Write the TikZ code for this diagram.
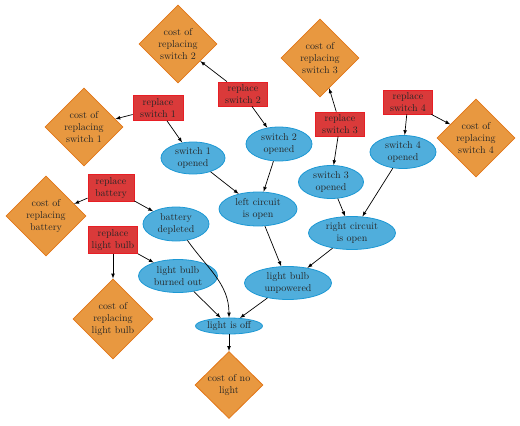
\documentclass[tikz,border=0pt]{standalone}
\usetikzlibrary{shapes.geometric,arrows}
\definecolor{dfill}{RGB}{232,152,64}
\definecolor{ddraw}{RGB}{226,118,24}
\definecolor{rfill}{RGB}{218,58,58}
\definecolor{rdraw}{RGB}{232,30,36}
\definecolor{efill}{RGB}{80,174,220}
\definecolor{edraw}{RGB}{28,152,212}
\tikzset{
  costnode/.style={diamond,draw=ddraw,fill=dfill,line width=0.8pt,align=center,inner sep=0pt,text=black!85},
  actnode/.style={rectangle,draw=rdraw,fill=rfill,line width=0.8pt,align=center,inner sep=0pt,text=black!85},
  statenode/.style={ellipse,draw=edraw,fill=efill,line width=0.8pt,align=center,inner sep=0pt,text=black!85},
  link/.style={-latex,line width=0.7pt,black}
}
\begin{document}
\begin{tikzpicture}[x=1pt,y=-1pt]
\useasboundingbox (0,0) rectangle (520,426);
% cost diamonds
\node[costnode,minimum width=78pt,minimum height=78pt] (cs2) at (178,44) {cost of\\replacing\\switch 2};
\node[costnode,minimum width=78pt,minimum height=78pt] (cs1) at (84,127) {cost of\\replacing\\switch 1};
\node[costnode,minimum width=78pt,minimum height=78pt] (cs3) at (320,58) {cost of\\replacing\\switch 3};
\node[costnode,minimum width=78pt,minimum height=78pt] (cs4) at (476,138) {cost of\\replacing\\switch 4};
\node[costnode,minimum width=80pt,minimum height=80pt] (cb) at (46,216) {cost of\\replacing\\battery};
\node[costnode,minimum width=80pt,minimum height=80pt] (clb) at (113,319) {cost of\\replacing\\light bulb};
\node[costnode,minimum width=68pt,minimum height=67pt] (cnl) at (229,385) {cost of no\\light};
% action rectangles
\node[actnode,minimum width=50pt,minimum height=25pt] (rs1) at (158,108) {replace\\switch 1};
\node[actnode,minimum width=49pt,minimum height=24pt] (rs2) at (243,94) {replace\\switch 2};
\node[actnode,minimum width=49pt,minimum height=24pt] (rs3) at (340,124) {replace\\switch 3};
\node[actnode,minimum width=49pt,minimum height=24pt] (rs4) at (408,102) {replace\\switch 4};
\node[actnode,minimum width=46pt,minimum height=27pt] (rb) at (111,188) {replace\\battery};
\node[actnode,minimum width=49pt,minimum height=27pt] (rlb) at (113,240) {replace\\light bulb};
% state ellipses
\node[statenode,minimum width=64pt,minimum height=32pt] (s1) at (193,158) {switch 1\\opened};
\node[statenode,minimum width=66pt,minimum height=34pt] (s2) at (279,144) {switch 2\\opened};
\node[statenode,minimum width=65pt,minimum height=33pt] (s3) at (331,182) {switch 3\\opened};
\node[statenode,minimum width=66pt,minimum height=33pt] (s4) at (403,152) {switch 4\\opened};
\node[statenode,minimum width=78pt,minimum height=34pt] (lc) at (258,209) {left circuit\\is open};
\node[statenode,minimum width=87pt,minimum height=33pt] (rc) at (352,233) {right circuit\\is open};
\node[statenode,minimum width=87pt,minimum height=33pt] (lbu) at (288,283) {light bulb\\unpowered};
\node[statenode,minimum width=67pt,minimum height=16pt] (lio) at (229,326) {light is off};
\node[statenode,minimum width=66pt,minimum height=34pt] (bd) at (176,224) {battery\\depleted};
\node[statenode,minimum width=79pt,minimum height=33pt] (lbb) at (178,276) {light bulb\\burned out};
% edges
\draw[link] (rs1) -- (cs1);
\draw[link] (rs1) -- (s1);
\draw[link] (rs2) -- (cs2);
\draw[link] (rs2) -- (s2);
\draw[link] (rs3) -- (cs3);
\draw[link] (rs3) -- (s3);
\draw[link] (rs4) -- (s4);
\draw[link] (rs4) -- (cs4);
\draw[link] (rb) -- (cb);
\draw[link] (rb) -- (bd);
\draw[link] (rlb) -- (clb);
\draw[link] (rlb) -- (lbb);
\draw[link] (s1) -- (lc);
\draw[link] (s2) -- (lc);
\draw[link] (s3) -- (rc);
\draw[link] (s4) -- (rc);
\draw[link] (lc) -- (lbu);
\draw[link] (rc) -- (lbu);
\draw[link] (bd) to[out=-55,in=90] (lio);
\draw[link] (lbb) -- (lio);
\draw[link] (lbu) -- (lio);
\draw[link] (lio) -- (cnl);
\end{tikzpicture}
\end{document}
